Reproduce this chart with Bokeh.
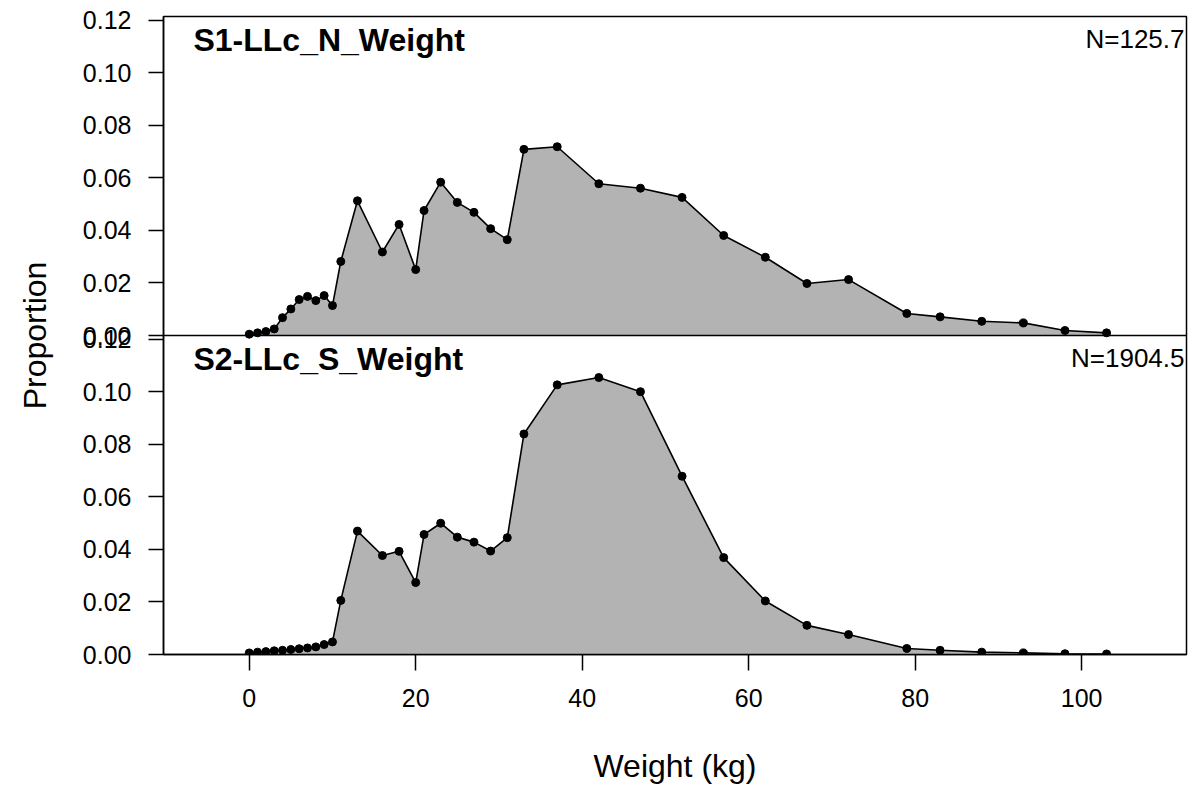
from bokeh.plotting import figure
from bokeh.models import Range1d, FixedTicker, CustomJSTickFormatter, Span, Label
from bokeh.embed import file_html
from bokeh.resources import INLINE

weight_kg = [0, 1, 2, 3, 4, 5, 6, 7, 8, 9, 10, 11, 13, 16, 18, 20, 21, 23, 25, 27, 29,
             31, 33, 37, 42, 47, 52, 57, 62, 67, 72, 79, 83, 88, 93, 98, 103]
s1_prop = [0.0005, 0.001, 0.0015, 0.0025, 0.0068, 0.0101, 0.0137, 0.0149, 0.0133, 0.0152,
           0.0114, 0.0282, 0.0513, 0.0318, 0.0423, 0.0251, 0.0476, 0.0584, 0.0507, 0.0469,
           0.0407, 0.0365, 0.0709, 0.0719, 0.0578, 0.0561, 0.0526, 0.0381, 0.0298, 0.0198,
           0.0213, 0.0084, 0.0071, 0.0054, 0.0048, 0.0019, 0.001]
s2_prop = [0.0006, 0.0009, 0.0011, 0.0014, 0.0016, 0.0019, 0.0022, 0.0025, 0.0029, 0.0038,
           0.0048, 0.0206, 0.047, 0.0377, 0.0393, 0.0274, 0.0457, 0.05, 0.0447, 0.0428,
           0.0394, 0.0445, 0.084, 0.1027, 0.1055, 0.1001, 0.0679, 0.0369, 0.0204, 0.0111,
           0.0076, 0.0023, 0.0016, 0.0009, 0.0006, 0.0003, 0.0002]
panel_titles = ["S1-LLc_N_Weight", "S2-LLc_S_Weight"]
panel_n = ["N=125.7", "N=1904.5"]
y_ticks = [0.0, 0.02, 0.04, 0.06, 0.08, 0.10, 0.12]
x_ticks = [0, 20, 40, 60, 80, 100]

H = 0.1215          # height of one panel in proportion units
X0, X1 = -10.3, 112.6
FONT = "Liberation Sans"
GRAY = "#B3B3B3"

p = figure(width=1189, height=786, x_range=Range1d(X0, X1), y_range=Range1d(0, 2 * H),
           output_backend="svg", toolbar_location=None,
           min_border_left=163, min_border_right=3, min_border_top=16, min_border_bottom=130)
p.extra_y_ranges = {"top": Range1d(-H, H)}
p.xgrid.visible = False
p.ygrid.visible = False
p.background_fill_color = "white"
p.border_fill_color = "white"
p.outline_line_color = "black"
p.outline_line_width = 1.5

# panels: top (S1) uses "top" range, bottom (S2) uses main range
for ys, rng in ((s1_prop, "top"), (s2_prop, "default")):
    p.varea(x=weight_kg, y1=0, y2=ys, fill_color=GRAY, y_range_name=rng)
    p.line(x=weight_kg, y=ys, line_color="black", line_width=1.6, y_range_name=rng)
    p.scatter(x=weight_kg, y=ys, size=8, fill_color="black", line_color="black",
              y_range_name=rng)

p.add_layout(Span(location=H, dimension="width", line_color="black", line_width=1.5))

# y axis with two stacked sets of ticks
ticks = list(y_ticks) + [H + t for t in y_ticks]
p.yaxis.ticker = FixedTicker(ticks=ticks, minor_ticks=[])
p.yaxis.formatter = CustomJSTickFormatter(
    args=dict(H=H),
    code="const v = tick > H - 1e-6 ? tick - H : tick; return Math.abs(v).toFixed(2);")
p.yaxis.axis_label = "Proportion"

p.xaxis.ticker = FixedTicker(ticks=x_ticks, minor_ticks=[])
p.xaxis.axis_label = "Weight (kg)"

for ax in (p.xaxis[0], p.yaxis[0]):
    ax.major_label_text_font = FONT
    ax.major_label_text_font_size = "25px"
    ax.major_label_text_color = "black"
    ax.axis_label_text_font = FONT
    ax.axis_label_text_font_size = "32px"
    ax.axis_label_text_font_style = "normal"
    ax.axis_label_text_color = "black"
    ax.axis_line_color = "black"
    ax.axis_line_width = 1.5
    ax.major_tick_line_color = "black"
    ax.major_tick_line_width = 1.5
    ax.major_tick_in = 0
    ax.minor_tick_line_color = None

p.yaxis.major_tick_out = 15
p.yaxis.major_label_standoff = 17
p.yaxis.axis_label_standoff = 27
p.xaxis.major_tick_out = 16
p.xaxis.major_label_standoff = 18
p.xaxis.axis_label_standoff = 38

for i, rng in enumerate(("top", "default")):
    p.add_layout(Label(x=-6.7, y=H, y_range_name=rng, text=panel_titles[i],
                       text_font=FONT, text_font_size="32px", text_font_style="bold",
                       text_baseline="top", text_align="left", y_offset=-5,
                       text_color="black"))
    p.add_layout(Label(x=X1, y=H, y_range_name=rng, text=panel_n[i],
                       text_font=FONT, text_font_size="26px",
                       text_baseline="top", text_align="right", x_offset=-2, y_offset=-7,
                       text_color="black"))

open("out.html", "w").write(file_html(p, INLINE))
